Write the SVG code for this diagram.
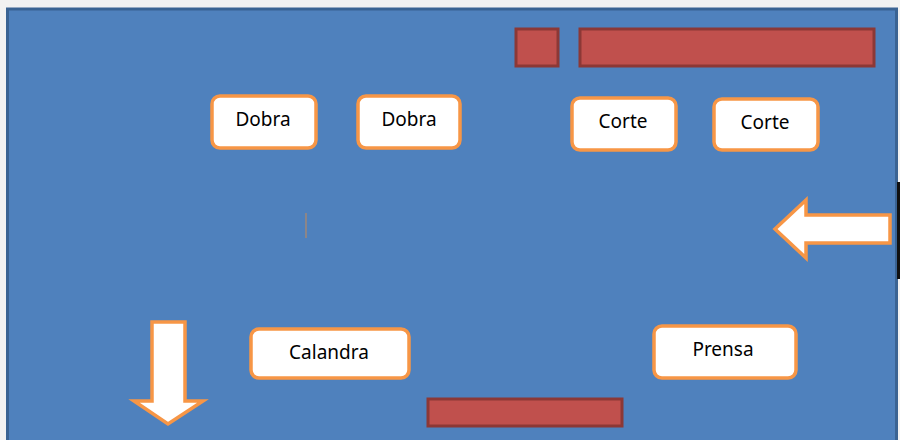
<svg xmlns="http://www.w3.org/2000/svg" width="900" height="440" viewBox="0 0 900 440">
<style>
.bar{fill:#C0504D;stroke:#8C3836;stroke-width:3}
.box{fill:#FFFFFF;stroke:#F79646;stroke-width:3.5}
.lbl{font-family:"Noto Sans","Open Sans",sans-serif;font-size:19px;fill:#000000;text-anchor:middle;dominant-baseline:central}
.arrow{fill:#FFFFFF;stroke:#F79646;stroke-width:3.5;stroke-linejoin:miter}
</style>
<rect x="0" y="0" width="900" height="440" fill="#F2F2F2"/>
<rect id="plant" x="7.5" y="9" width="889" height="440" fill="#4F81BD" stroke="#3A6393" stroke-width="3"/>
<rect x="897" y="182" width="3" height="97" fill="#111111"/>
<g id="bar-small"><rect class="bar" x="516" y="29" width="42" height="37"/></g>
<g id="bar-top"><rect class="bar" x="580" y="29" width="294" height="37"/></g>
<g id="bar-bottom"><rect class="bar" x="428" y="399" width="194" height="27"/></g>
<g id="dobra1"><rect class="box" x="212" y="96" width="104" height="52" rx="8"/><text class="lbl" x="263" y="119">Dobra</text></g>
<g id="dobra2"><rect class="box" x="358" y="96" width="102" height="52" rx="8"/><text class="lbl" x="409" y="119">Dobra</text></g>
<g id="corte1"><rect class="box" x="572" y="98" width="104" height="52" rx="8"/><text class="lbl" x="623" y="121">Corte</text></g>
<g id="corte2"><rect class="box" x="714" y="99" width="104" height="51" rx="8"/><text class="lbl" x="765" y="122">Corte</text></g>
<g id="calandra"><rect class="box" x="251" y="329" width="158" height="49" rx="8"/><text class="lbl" x="329" y="352">Calandra</text></g>
<g id="prensa"><rect class="box" x="654" y="326" width="142" height="52" rx="8"/><text class="lbl" x="723" y="349">Prensa</text></g>
<g id="connectors">
<polygon class="arrow" points="775,229 806,200 806,215 890,215 890,243 806,243 806,258"/>
<polygon class="arrow" points="152,322 185,322 185,401 203,401 168,424 134,401 152,401"/>
<line x1="306" y1="213" x2="306" y2="238" stroke="#C98A55" stroke-width="1"/>
</g>
</svg>
